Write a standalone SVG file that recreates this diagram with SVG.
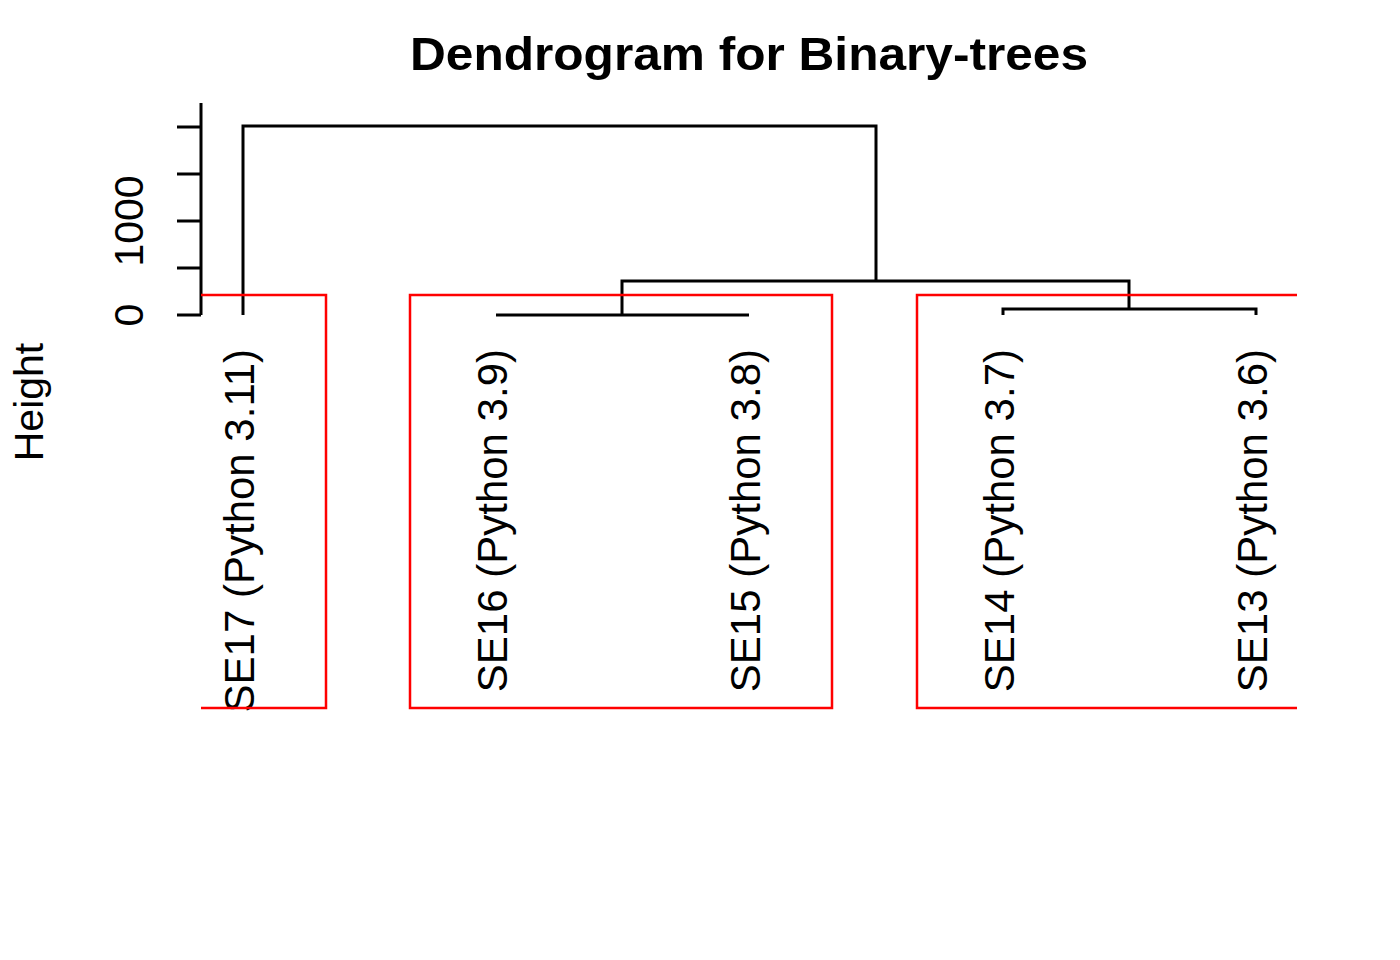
<svg xmlns="http://www.w3.org/2000/svg" width="1400" height="960" viewBox="0 0 1400 960">
<style>
.t{font-family:"Liberation Sans",Arial,sans-serif;fill:#000}
.lbl{font-size:42px}
.ln{stroke:#000;stroke-width:3;fill:none;stroke-linecap:butt}
.rc{stroke:#ff0000;stroke-width:2.5;fill:none}
</style>
<rect width="1400" height="960" fill="#fff"/>
<text class="t" x="749" y="70" font-size="47" font-weight="bold" text-anchor="middle" textLength="678" lengthAdjust="spacingAndGlyphs">Dendrogram for Binary-trees</text>
<g id="axis">
<path class="ln" d="M201,103V315M177,127H201M177,174H201M177,221H201M177,268H201M177,315H201"/>
<text class="t" font-size="41" text-anchor="middle" transform="translate(143,315) rotate(-90)">0</text>
<text class="t" font-size="41" text-anchor="middle" transform="translate(143,221) rotate(-90)">1000</text>
<text class="t" font-size="41" text-anchor="middle" transform="translate(43,402) rotate(-90)">Height</text>
</g>
<g id="connectors">
<path class="ln" d="M243,315V126H876V281M622,315V281H1129V309M496,315H749M1003,315V309H1256V315"/>
</g>
<g id="leaf-SE17"><text class="t lbl" text-anchor="end" transform="translate(254,349) rotate(-90)">SE17 (Python 3.11)</text></g>
<g id="leaf-SE16"><text class="t lbl" text-anchor="end" transform="translate(507,349) rotate(-90)">SE16 (Python 3.9)</text></g>
<g id="leaf-SE15"><text class="t lbl" text-anchor="end" transform="translate(760,349) rotate(-90)">SE15 (Python 3.8)</text></g>
<g id="leaf-SE14"><text class="t lbl" text-anchor="end" transform="translate(1014,349) rotate(-90)">SE14 (Python 3.7)</text></g>
<g id="leaf-SE13"><text class="t lbl" text-anchor="end" transform="translate(1267,349) rotate(-90)">SE13 (Python 3.6)</text></g>
<g id="clusters">
<path class="rc" d="M201,295H326V708H201"/>
<path class="rc" d="M410,295H832V708H410Z"/>
<path class="rc" d="M1297,295H917V708H1297"/>
</g>
</svg>
